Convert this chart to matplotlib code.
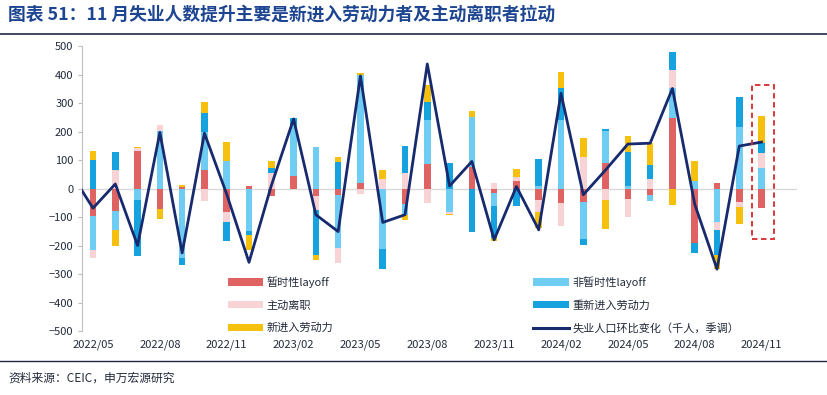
import matplotlib.pyplot as plt
import numpy as np
from matplotlib.patches import Rectangle
from matplotlib.lines import Line2D

plt.rcParams['font.family'] = ['Noto Sans CJK SC', 'DejaVu Sans']

# months 2022/05 .. 2024/11 (31 bars)
tick_labels = ['2022/05', '2022/08', '2022/11', '2023/02', '2023/05', '2023/08',
               '2023/11', '2024/02', '2024/05', '2024/08', '2024/11']

temp_layoff = [-98, -78, 133, -72, 5, 65, -83, 9, -26, 44, -25, -22, 21, 0, -54, 86,
               0, 77, -14, 28, -40, -51, -48, 89, -36, -22, 246, -191, 21, -48, -67]
perm_layoff = [-119, -67, -40, 203, -244, 134, 95, -148, 0, 180, 145, -187, 377, -212, -38, 154,
               -81, 175, -49, 0, 9, 240, -128, 113, 10, -23, 105, 25, -119, 215, 71]
quits = [-27, 65, 9, 20, 0, -43, -33, 0, 54, 0, -50, -53, -20, 33, 56, -51,
         -8, 0, 19, 12, -44, -79, 112, -40, -65, 33, 64, 0, -26, -17, 53]
reentrants = [100, 62, -196, 0, -23, 67, -68, -14, 18, 22, -158, 93, 0, -72, 93, 64,
              91, -154, -111, -60, 95, 112, -23, 6, 119, 50, 64, -35, -88, 107, 37]
new_entrants = [32, -56, 3, -34, 6, 36, 67, -53, 23, -3, -17, 16, 6, 33, -20, 58,
                -4, 21, -9, 28, -55, 58, 67, -103, 55, 77, -57, 70, -50, -60, 93]
# line starts one month earlier (2022/04), clipped by the axis
unemp_change = [55, -69, 16, -200, 197, -226, 194, -20, -259, 10, 244, -92, -151, 395, -119, -92,
                437, 9, 95, -180, 7, -145, 334, -22, 65, 156, 159, 351, -55, -283, 149, 163]

series = [
    ('暂时性layoff', temp_layoff, '#e06363'),
    ('非暂时性layoff', perm_layoff, '#6fcdf4'),
    ('主动离职', quits, '#f8d3d6'),
    ('重新进入劳动力', reentrants, '#16a2df'),
    ('新进入劳动力', new_entrants, '#f5c10e'),
]

fig = plt.figure(figsize=(8.27, 3.95), dpi=100)
ax = fig.add_axes([0.099, 0.162, 0.865, 0.7215])

x = np.arange(len(temp_layoff))
pos_bottom = np.zeros(len(x))
neg_bottom = np.zeros(len(x))
handles = {}
for label, vals, color in series:
    v = np.array(vals, dtype=float)
    pos = np.where(v > 0, v, 0)
    neg = np.where(v < 0, v, 0)
    handles[label] = ax.bar(x, pos, 0.3, bottom=pos_bottom, color=color, zorder=2)
    ax.bar(x, neg, 0.3, bottom=neg_bottom, color=color, zorder=2)
    pos_bottom += pos
    neg_bottom += neg

line_x = np.arange(-1, len(temp_layoff))
ln, = ax.plot(line_x, unemp_change, color='#172a6e', lw=2.0, zorder=3)

ax.axhline(0, color='#d9d9d9', lw=1, zorder=1)

# highlight box around the latest month
ax.add_patch(Rectangle((29.55, -177), 1.0, 540, fill=False, ls=(0, (3, 2)),
                       ec='#d42a2a', lw=1.3, zorder=4))

ax.set_xlim(-0.5, 31.6)
ax.set_ylim(-500, 500)
ax.set_yticks(np.arange(-500, 501, 100))
ax.set_xticks(np.arange(0, 31, 3))
ax.set_xticklabels(tick_labels)
ax.tick_params(axis='x', length=0, pad=6, labelsize=8, labelcolor='#222a3a')
ax.tick_params(axis='y', length=3, color='#bfbfbf', labelsize=8, labelcolor='#222a3a', pad=3)
for s in ['top', 'right', 'bottom']:
    ax.spines[s].set_visible(False)
ax.spines['left'].set_color('#bfbfbf')

leg_handles = [handles['暂时性layoff'], handles['主动离职'], handles['新进入劳动力'],
               handles['非暂时性layoff'], handles['重新进入劳动力'],
               Line2D([], [], color='#172a6e', lw=2.2)]
leg_labels = ['暂时性layoff', '主动离职', '新进入劳动力',
              '非暂时性layoff', '重新进入劳动力', '失业人口环比变化（千人，季调）']
ax.legend(leg_handles, leg_labels, ncol=2, loc='lower left', bbox_to_anchor=(0.19, -0.045),
          frameon=False, fontsize=8, handlelength=3.2, handleheight=0.6,
          columnspacing=18, labelspacing=1.1, handletextpad=0.3, labelcolor='#222a3a')

fig.text(0.01, 0.963, '图表 51：11 月失业人数提升主要是新进入劳动力者及主动离职者拉动',
         fontsize=12.8, fontweight='bold', color='#1d4591', va='center')
fig.add_artist(Line2D([0, 1], [0.915, 0.915], color='#1f2a44', lw=1.2, transform=fig.transFigure))
fig.add_artist(Line2D([0, 1], [0.087, 0.087], color='#1f2a44', lw=1.0, transform=fig.transFigure))
fig.text(0.01, 0.043, '资料来源：CEIC，申万宏源研究', fontsize=8.5, color='#222a3a', va='center')

fig.savefig('out.png', dpi=100)
